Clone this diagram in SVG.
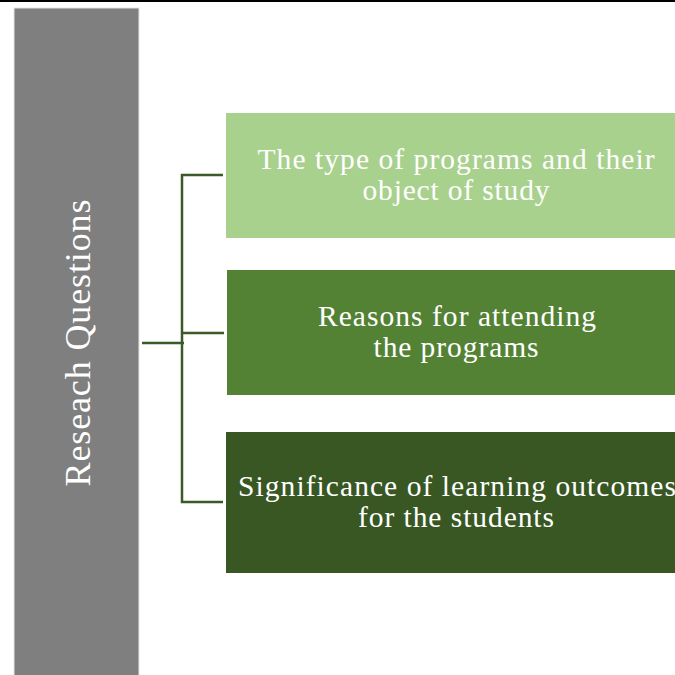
<svg xmlns="http://www.w3.org/2000/svg" width="675" height="675" viewBox="0 0 675 675">
  <style>
    .lbl { font-family: "Liberation Serif", "Times New Roman", serif; fill: #ffffff; text-anchor: middle; }
    .box-text { font-size: 29.5px; }
    .conn { fill: none; stroke: #3b5a27; stroke-width: 2.5; }
  </style>
  <rect x="0" y="0" width="675" height="675" fill="#ffffff"/>
  <!-- top rule -->
  <line x1="0" y1="1" x2="675" y2="1" stroke="#000000" stroke-width="2"/>

  <g id="root">
    <rect x="14" y="8" width="125" height="670" fill="#7f7f7f" stroke="#e6e6e6" stroke-width="1"/>
    <text class="lbl" x="0" y="0" font-size="36" textLength="287" lengthAdjust="spacing" transform="translate(90,343) rotate(-90)">Reseach Questions</text>
  </g>

  <g id="connectors">
    <path class="conn" d="M142,343 H184"/>
    <path class="conn" d="M223,175 H182 V502 H223"/>
    <path class="conn" d="M182,333 H224"/>
  </g>

  <g id="node-programs">
    <rect x="226" y="113" width="460" height="125" fill="#a9d18e"/>
    <text class="lbl box-text" x="456" y="169" textLength="397" lengthAdjust="spacing">The type of programs and their</text>
    <text class="lbl box-text" x="456" y="200" textLength="187" lengthAdjust="spacing">object of study</text>
  </g>

  <g id="node-reasons">
    <rect x="227" y="270" width="460" height="125" fill="#548235"/>
    <text class="lbl box-text" x="457" y="326" textLength="278" lengthAdjust="spacing">Reasons for attending</text>
    <text class="lbl box-text" x="456" y="357" textLength="165" lengthAdjust="spacing">the programs</text>
  </g>

  <g id="node-significance">
    <rect x="226" y="432" width="460" height="141" fill="#385723"/>
    <text class="lbl box-text" x="457" y="496" textLength="438" lengthAdjust="spacing">Significance of learning outcomes</text>
    <text class="lbl box-text" x="456" y="527" textLength="196" lengthAdjust="spacing">for the students</text>
  </g>
</svg>
